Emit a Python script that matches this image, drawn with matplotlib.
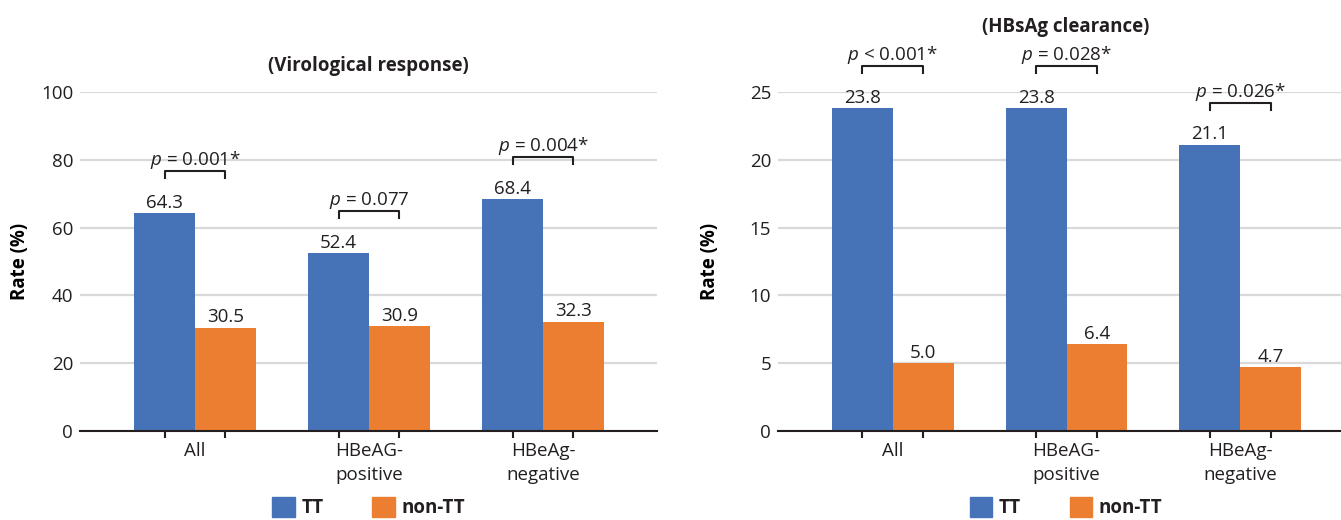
import matplotlib
matplotlib.use("Agg")
import matplotlib.pyplot as plt
from matplotlib.patches import Patch
import numpy as np

categories = ["All", "HBeAG-\npositive", "HBeAg-\nnegative"]

vr_tt = [64.3, 52.4, 68.4]
vr_non_tt = [30.5, 30.9, 32.3]
vr_p = ["= 0.001*", "= 0.077", "= 0.004*"]
vr_ticks = [0, 20, 40, 60, 80, 100]

hb_tt = [23.8, 23.8, 21.1]
hb_non_tt = [5.0, 6.4, 4.7]
hb_p = ["< 0.001*", "= 0.028*", "= 0.026*"]
hb_ticks = [0, 5, 10, 15, 20, 25]

BLUE = "#4672B7"
ORANGE = "#EB7E30"
TEXT = "#231F20"
GRID = "#D9D9D9"
FS = 13.5

plt.rcParams["font.family"] = ["Open Sans", "DejaVu Sans"]
plt.rcParams["mathtext.fontset"] = "custom"
plt.rcParams["mathtext.rm"] = "Open Sans"
plt.rcParams["mathtext.it"] = "Open Sans:italic"
plt.rcParams["text.color"] = TEXT


def draw_panel(ax, tt, non_tt, pvals, ticks, title, title_y, ylabel_x):
    x = np.arange(len(categories))
    w = 0.35
    ymax = ticks[-1]

    ax.set_axisbelow(True)
    ax.yaxis.grid(True, color=GRID, linewidth=1.6)
    b1 = ax.bar(x - w / 2, tt, w, color=BLUE, label="TT")
    b2 = ax.bar(x + w / 2, non_tt, w, color=ORANGE, label="non-TT")
    ax.bar_label(b1, fmt="%.1f", padding=1, fontsize=FS, color=TEXT)
    ax.bar_label(b2, fmt="%.1f", padding=1, fontsize=FS, color=TEXT)

    # significance brackets between the two bars
    off = 0.124 * ymax
    tick = 0.02 * ymax
    for i, (v, p) in enumerate(zip(tt, pvals)):
        y = v + off
        ax.plot([i - w / 2, i - w / 2, i + w / 2, i + w / 2],
                [y - tick, y, y, y - tick], color=TEXT, lw=1.5, clip_on=False)
        ax.annotate("$p$ " + p, xy=(i, y), xytext=(0, 0), textcoords="offset points",
                    ha="center", va="bottom", fontsize=FS, annotation_clip=False)

    ax.set_xlim(-0.661, 2.655)
    ax.set_ylim(0, ymax)
    ax.set_yticks(ticks)
    ax.tick_params(axis="y", length=0, labelsize=FS, pad=5, colors=TEXT)

    ax.set_xticks(x)
    ax.set_xticklabels(categories, fontsize=FS, linespacing=1.4)
    ax.set_xticks(np.concatenate([x - w / 2, x + w / 2]), minor=True)
    ax.tick_params(axis="x", which="major", length=0, pad=8, colors=TEXT)
    ax.tick_params(axis="x", which="minor", length=5, width=1.5, color=TEXT)

    for s in ["top", "right", "left"]:
        ax.spines[s].set_visible(False)
    ax.spines["bottom"].set_color(TEXT)
    ax.spines["bottom"].set_linewidth(1.5)

    ax.set_ylabel("Rate (%)", fontsize=FS, fontweight="bold")
    ax.yaxis.set_label_coords(ylabel_x, 0.5)
    ax.text(0.5, title_y, title, transform=ax.transAxes, ha="center", va="center",
            fontsize=FS, fontweight="bold")

    handles = [Patch(color=BLUE, label="TT"), Patch(color=ORANGE, label="non-TT")]
    ax.legend(handles=handles, loc="center", bbox_to_anchor=(0.5, -0.227), ncol=2,
              frameon=False, handlelength=1.2, handleheight=1.2, handletextpad=0.35,
              columnspacing=2.6, prop={"size": FS, "weight": "bold"})


fig = plt.figure(figsize=(13.41, 5.2), dpi=100)
ax1 = fig.add_axes([80 / 1341, 89 / 520, 577 / 1341, 339 / 520])
ax2 = fig.add_axes([778 / 1341, 89 / 520, 576 / 1341, 339 / 520])

draw_panel(ax1, vr_tt, vr_non_tt, vr_p, vr_ticks, "(Virological response)", 1.077, -0.087)
draw_panel(ax2, hb_tt, hb_non_tt, hb_p, hb_ticks, "(HBsAg clearance)", 1.192, -0.101)

fig.savefig("out.png", dpi=100)
